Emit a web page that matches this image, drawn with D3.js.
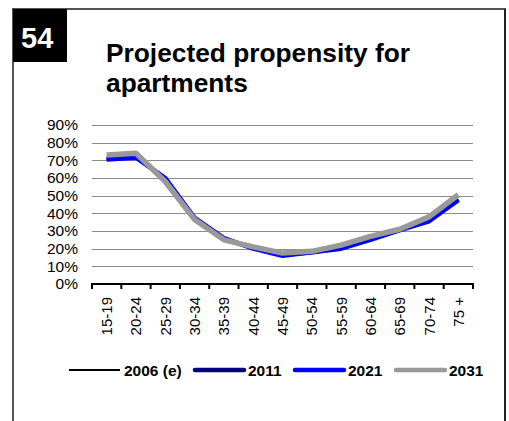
<!DOCTYPE html>
<html><head><meta charset="utf-8">
<script src="https://cdn.jsdelivr.net/npm/d3@7/dist/d3.min.js"></script>
<style>
html,body{margin:0;padding:0;background:#fff;}
svg{display:block;font-family:Arial,"Liberation Sans",sans-serif;}
</style></head>
<body>
<svg id="c" width="509" height="421"></svg>
<script>
const categories = ["15-19","20-24","25-29","30-34","35-39","40-44","45-49","50-54","55-59","60-64","65-69","70-74","75 +"];
const s2006 = [0.705,0.715,0.600,0.375,0.260,0.200,0.160,0.180,0.200,0.250,0.305,0.355,0.475];
const s2011 = [0.710,0.720,0.595,0.370,0.255,0.205,0.165,0.180,0.205,0.255,0.305,0.360,0.480];
const s2021 = [0.705,0.715,0.600,0.375,0.260,0.200,0.160,0.180,0.200,0.250,0.305,0.355,0.475];
const s2031 = [0.730,0.740,0.580,0.365,0.250,0.210,0.175,0.185,0.220,0.270,0.310,0.380,0.505];
const seriesNames = ["2006 (e)","2011","2021","2031"];
const yTicks = [0,0.1,0.2,0.3,0.4,0.5,0.6,0.7,0.8,0.9];

const series = [
  {name: seriesNames[0], values: s2006, color: "#000000", width: 1.5},
  {name: seriesNames[1], values: s2011, color: "#000080", width: 4.5},
  {name: seriesNames[2], values: s2021, color: "#0000ff", width: 4.5},
  {name: seriesNames[3], values: s2031, color: "#999999", width: 5.5}
];

const svg = d3.select("#c");

// frame
svg.append("path").attr("d","M13,421 L13,9 L505,9 L505,421")
  .attr("fill","none").attr("stroke","#555").attr("stroke-width",2);
svg.append("line").attr("x1",505).attr("x2",505).attr("y1",9).attr("y2",421)
  .attr("stroke","#222").attr("stroke-width",2);

// number box
svg.append("rect").attr("x",13).attr("y",9).attr("width",54).attr("height",53).attr("fill","#000");
svg.append("text").attr("x",21).attr("y",48).attr("fill","#fff")
  .attr("font-size",29).attr("font-weight","bold").text("54");

// title
svg.append("text").attr("x",106).attr("y",62).attr("font-size",26.3).attr("font-weight","bold")
  .attr("fill","#000").text("Projected propensity for");
svg.append("text").attr("x",106).attr("y",92).attr("font-size",26.3).attr("font-weight","bold")
  .attr("fill","#000").text("apartments");

const x = d3.scaleBand().domain(categories).range([92,473]).padding(0);
const y = d3.scaleLinear().domain([0,0.9]).range([284,125]);

// gridlines
svg.append("g").selectAll("line").data(yTicks.filter(d=>d>0)).join("line")
  .attr("x1",92).attr("x2",473)
  .attr("y1",d=>Math.round(y(d))+0.5).attr("y2",d=>Math.round(y(d))+0.5)
  .attr("stroke","#8c8c8c").attr("stroke-width",1);

// y axis labels
const yAxis = d3.axisLeft(y).tickValues(yTicks).tickFormat(d3.format(".0%")).tickSize(0).tickPadding(0);
const gy = svg.append("g").attr("transform","translate(78,0)").call(yAxis);
gy.select(".domain").remove();
gy.selectAll("text").attr("font-size",15.5).attr("fill","#000").attr("font-family","Arial,'Liberation Sans',sans-serif");

// x axis
const gx = svg.append("g").attr("transform","translate(0,284)");
gx.append("line").attr("x1",91).attr("x2",474).attr("y1",0).attr("y2",0).attr("stroke","#000").attr("stroke-width",2);
const edges = categories.map(c=>x(c)).concat([x.range()[1]]);
gx.selectAll("line.tk").data(edges).join("line").attr("class","tk")
  .attr("x1",d=>d).attr("x2",d=>d).attr("y1",0).attr("y2",5)
  .attr("stroke","#000").attr("stroke-width",2);
gx.selectAll("text.xl").data(categories).join("text").attr("class","xl")
  .attr("transform",d=>`translate(${x(d)+x.bandwidth()/2+5.5},13) rotate(-90)`)
  .attr("text-anchor","end").attr("font-size",15).attr("fill","#000").text(d=>d);

// lines
const line = d3.line().x((d,i)=>x(categories[i])+x.bandwidth()/2).y(d=>y(d));
svg.append("g").selectAll("path").data(series).join("path")
  .attr("d",d=>line(d.values)).attr("fill","none")
  .attr("stroke",d=>d.color).attr("stroke-width",d=>d.width)
  .attr("stroke-linejoin","round").attr("stroke-linecap","butt");

// legend
const legX = [69,193,293,394];
const lg = svg.append("g").selectAll("g").data(series).join("g")
  .attr("transform",(d,i)=>`translate(${legX[i]},370)`);
lg.append("line").attr("x1",d=>d.width>2?2:0).attr("x2",51).attr("y1",0).attr("y2",0)
  .attr("stroke",d=>d.color).attr("stroke-width",d=>d.width>2?4.5:2)
  .attr("stroke-linecap",d=>d.width>2?"round":"butt");
lg.append("text").attr("x",55).attr("y",5.5).attr("font-size",15.5).attr("font-weight","bold")
  .attr("fill","#000").text(d=>d.name);
</script>
</body></html>
